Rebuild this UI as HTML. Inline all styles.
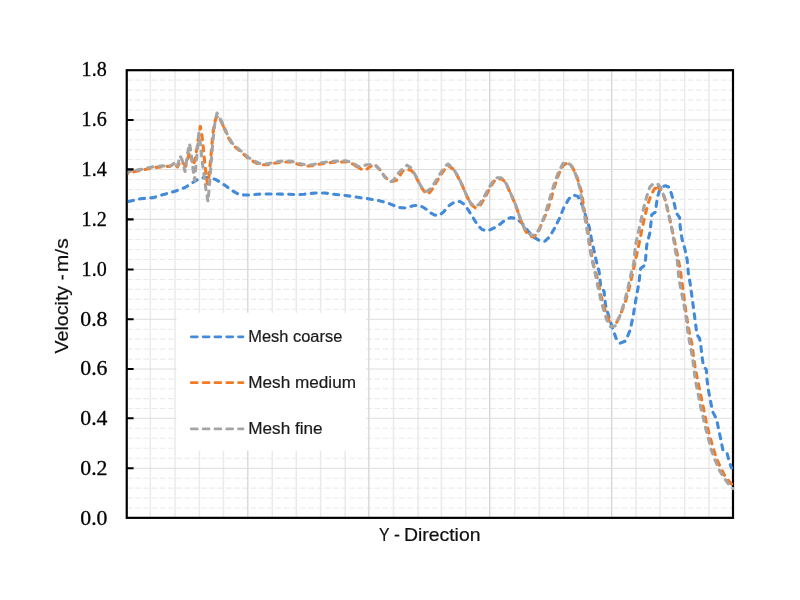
<!DOCTYPE html>
<html lang="en"><head><meta charset="utf-8"><title>Velocity vs Y - Direction</title>
<style>
html,body{margin:0;padding:0;background:#fff;}
body{width:800px;height:600px;overflow:hidden;}
svg{display:block;}
.tk text{font-family:"Liberation Serif",serif;font-size:21.4px;text-anchor:end;fill:#000;stroke:#000;stroke-width:0.3px;}
.lg{font-family:"Liberation Sans",sans-serif;font-size:15.8px;fill:#1a1a1a;stroke:#1a1a1a;stroke-width:0.2px;}
.ti{font-family:"Liberation Sans",sans-serif;fill:#111;stroke:#111;stroke-width:0.2px;}
</style></head><body>
<svg width="800" height="600" viewBox="0 0 800 600">
<rect width="800" height="600" fill="#fff"/>
<path d="M126.8,80.16H733.0M126.8,90.12H733.0M126.8,100.08H733.0M126.8,110.04H733.0M126.8,129.89H733.0M126.8,139.78H733.0M126.8,149.67H733.0M126.8,159.56H733.0M126.8,179.44H733.0M126.8,189.43H733.0M126.8,199.42H733.0M126.8,209.41H733.0M126.8,229.42H733.0M126.8,239.44H733.0M126.8,249.46H733.0M126.8,259.48H733.0M126.8,279.45H733.0M126.8,289.40H733.0M126.8,299.35H733.0M126.8,309.30H733.0M126.8,329.21H733.0M126.8,339.17H733.0M126.8,349.13H733.0M126.8,359.09H733.0M126.8,378.90H733.0M126.8,388.75H733.0M126.8,398.60H733.0M126.8,408.45H733.0M126.8,428.30H733.0M126.8,438.30H733.0M126.8,448.30H733.0M126.8,458.30H733.0M126.8,478.21H733.0M126.8,488.12H733.0M126.8,498.03H733.0M126.8,507.94H733.0" stroke="#ebebeb" stroke-width="1.1" stroke-dasharray="5.7 2.55" fill="none"/>
<path d="M150.30,70.2V517.85M175.00,70.2V517.85M199.40,70.2V517.85M223.50,70.2V517.85M272.25,70.2V517.85M296.30,70.2V517.85M320.60,70.2V517.85M345.20,70.2V517.85M393.50,70.2V517.85M418.20,70.2V517.85M441.40,70.2V517.85M465.70,70.2V517.85M514.70,70.2V517.85M539.20,70.2V517.85M563.70,70.2V517.85M588.20,70.2V517.85M636.10,70.2V517.85M660.10,70.2V517.85M684.70,70.2V517.85M709.00,70.2V517.85" stroke="#eaeaea" stroke-width="1.5" fill="none"/>
<path d="M247.80,70.2V517.85M368.80,70.2V517.85M489.70,70.2V517.85M611.70,70.2V517.85" stroke="#d5d5d5" stroke-width="1.3" fill="none"/>
<path d="M126.8,120.00H733.0M126.8,169.45H733.0M126.8,219.40H733.0M126.8,269.50H733.0M126.8,319.25H733.0M126.8,369.05H733.0M126.8,418.30H733.0M126.8,468.30H733.0" stroke="#dddddd" stroke-width="1.1" fill="none"/>
<rect x="176.5" y="312.8" width="189.7" height="137.9" fill="#fff"/>
<rect x="126.75" y="70.2" width="606.25" height="447.65000000000003" fill="none" stroke="#000" stroke-width="2.2"/>
<clipPath id="pc"><rect x="127.75" y="70.2" width="606.55" height="447.65000000000003"/></clipPath>
<g clip-path="url(#pc)" fill="none" stroke-linejoin="round" stroke-linecap="round">
<path d="M127.3,201.8 L133.0,200.5 L140.0,198.8 L146.0,198.2 L152.5,197.7 L158.0,196.3 L163.8,194.4 L170.0,192.8 L175.0,191.2 L180.0,189.5 L185.0,187.5 L190.0,184.5 L195.0,181.0 L200.0,178.3 L204.0,177.6 L208.0,177.6 L212.0,178.3 L216.0,179.6 L220.0,182.2 L226.0,186.0 L232.0,190.5 L238.0,194.0 L244.0,195.0 L250.0,195.0 L257.5,194.2 L265.0,194.0 L277.0,194.0 L287.5,194.2 L298.0,194.7 L304.0,194.2 L310.0,193.5 L317.5,192.9 L325.0,193.0 L333.5,194.3 L345.5,195.5 L356.0,197.0 L368.0,198.7 L378.5,200.5 L389.0,203.5 L395.0,206.0 L399.5,207.5 L405.5,208.0 L409.0,207.0 L413.0,205.8 L417.0,205.3 L420.5,205.8 L423.5,207.5 L426.5,209.5 L430.0,212.5 L434.5,215.0 L439.0,215.5 L443.5,212.0 L449.5,205.2 L455.5,201.5 L460.0,201.5 L464.5,204.5 L469.0,211.2 L473.0,217.5 L477.5,225.0 L482.0,229.5 L487.2,231.0 L494.0,228.0 L500.0,224.2 L506.0,219.5 L510.5,217.6 L516.5,218.5 L522.5,223.8 L528.5,231.6 L534.5,237.6 L540.5,241.2 L545.0,241.2 L549.5,237.0 L554.5,228.3 L559.5,218.3 L564.0,207.2 L569.0,198.8 L573.5,195.0 L578.0,196.5 L582.5,205.5 L586.2,217.7 L589.2,227.0 L591.5,239.0 L593.8,249.5 L596.0,260.0 L599.2,272.0 L600.8,287.5 L604.0,291.0 L605.5,305.0 L609.0,317.0 L612.8,329.0 L616.5,339.5 L620.2,343.2 L625.5,341.0 L630.0,330.5 L633.0,317.0 L636.0,299.0 L639.0,282.5 L640.6,268.5 L644.8,265.3 L645.6,258.5 L646.8,245.0 L649.8,233.0 L651.3,220.0 L651.7,214.8 L655.8,211.8 L656.3,205.0 L657.5,197.0 L659.5,190.5 L662.5,186.5 L665.5,185.8 L669.2,187.2 L671.5,194.0 L674.5,204.5 L676.2,213.0 L679.6,217.5 L680.2,227.0 L682.0,239.0 L685.0,249.5 L687.2,260.0 L688.5,275.0 L690.0,282.5 L692.0,297.0 L694.0,312.0 L695.5,323.0 L696.8,334.5 L699.6,338.5 L700.8,345.5 L702.2,357.5 L703.5,366.5 L706.3,369.5 L706.9,378.5 L708.2,389.0 L710.5,401.0 L712.5,411.5 L716.5,419.0 L718.8,430.0 L721.0,440.5 L723.0,450.5 L727.0,453.0 L729.2,461.5 L730.8,466.0 L731.5,468.0" stroke="#438bd9" stroke-width="3.1" stroke-dasharray="5.0 6.3" stroke-dashoffset="10.02"/>
<path d="M127.3,173.5 L133.0,172.0 L140.0,170.6 L146.0,169.2 L151.2,168.1 L156.0,167.4 L161.2,166.9 L166.0,166.5 L170.0,166.2 L172.0,165.0 L173.8,163.3 L175.5,164.8 L177.5,166.9 L179.0,163.8 L181.0,161.0 L183.0,163.0 L185.8,166.0 L187.5,160.0 L189.5,152.5 L191.5,158.0 L193.2,165.2 L195.0,160.0 L197.0,148.0 L198.8,135.0 L200.4,126.4 L202.0,136.0 L203.5,150.0 L205.0,165.0 L206.3,176.0 L207.5,184.0 L208.7,178.0 L210.0,166.0 L211.3,152.0 L212.5,138.0 L214.0,125.0 L216.0,118.0 L217.5,116.5 L219.5,118.5 L221.5,122.0 L224.2,128.0" stroke="#f37a22" stroke-width="3.1" stroke-dasharray="5.0 6.3" stroke-dashoffset="4.53"/>
<path d="M224.2,128.0 L228.0,137.0 L232.5,144.5 L238.5,149.8 L244.5,155.0 L248.5,158.5 L254.5,162.2 L260.5,164.8 L268.0,164.8 L275.5,163.0 L283.0,162.0 L290.5,162.0 L298.0,164.2 L307.0,166.0 L313.0,165.7 L319.0,164.2 L327.5,162.8 L335.0,162.2 L345.5,161.8 L351.5,163.2 L357.5,167.0" stroke="#f37a22" stroke-width="3.1" stroke-dasharray="5.0 6.3" stroke-dashoffset="0.20"/>
<path d="M357.5,167.0 L360.5,168.7 L363.5,170.2 L367.0,169.0 L371.0,166.0 L374.8,164.5 L380.0,169.8 L384.5,176.5 L390.5,181.8 L396.5,180.2 L399.5,176.5 L402.5,171.2 L407.0,169.0 L411.9,170.9 L416.4,177.7 L420.9,186.7 L425.4,193.0 L427.6,194.2 L430.4,191.7 L432.9,188.2 L436.4,182.2 L440.9,174.7 L445.4,168.2 L448.4,165.7 L452.9,168.9 L457.4,175.7 L461.9,184.7 L466.4,195.2 L470.9,204.2 L475.4,207.9 L479.9,205.7 L484.4,198.7 L488.9,189.7 L491.9,184.7 L494.9,180.2 L496.4,179.0 L501.4,179.0 L503.4,180.2 L506.9,185.4 L511.4,195.2 L515.9,205.7 L518.9,214.7 L522.9,226.2 L527.9,234.7 L533.4,237.2 L537.9,232.7 L542.4,222.2 L546.9,211.7 L550.6,201.2 L554.4,186.7 L558.9,173.7 L563.4,165.2 L567.1,163.2 L572.4,166.9 L576.9,176.7 L581.4,191.7 L584.3,210.5" stroke="#f37a22" stroke-width="3.1" stroke-dasharray="5.0 6.3" stroke-dashoffset="0.68"/>
<path d="M584.3,210.5 L586.5,222.5 L588.8,236.0 L590.3,246.5 L592.5,260.0 L594.3,268.0 L597.3,278.0 L600.3,293.0 L604.8,309.5 L609.3,321.5" stroke="#f37a22" stroke-width="3.1" stroke-dasharray="5.0 6.3" stroke-dashoffset="4.36"/>
<path d="M613.0,325.2 L616.8,322.2 L621.3,312.5 L625.8,300.5 L629.5,287.0 L633.3,270.5 L635.8,258.5 L638.8,245.0 L641.8,230.0 L644.8,216.5 L647.8,204.5 L650.8,195.5 L654.5,188.8 L658.3,187.2" stroke="#f37a22" stroke-width="3.1" stroke-dasharray="5.0 6.3" stroke-dashoffset="6.52"/>
<path d="M658.3,187.2 L662.0,191.0 L665.8,201.5 L668.8,215.0 L671.8,228.5 L674.8,242.0 L677.8,257.0 L680.3,270.0 L682.0,282.5 L685.0,305.0 L687.5,322.0 L689.8,335.0 L692.0,344.0 L693.5,356.0 L695.0,366.5 L697.3,378.5 L699.5,389.0 L701.8,400.0 L704.0,410.5 L706.3,422.5 L709.3,434.5 L712.3,445.0 L716.0,457.0 L719.8,466.0 L724.3,475.0 L728.8,481.0 L733.3,486.0" stroke="#f37a22" stroke-width="3.1" stroke-dasharray="5.0 6.3" stroke-dashoffset="1.51"/>
<path d="M127.3,172.0 L133.0,170.8 L141.2,169.4 L147.0,168.0 L152.5,166.9 L158.0,166.3 L162.5,165.9 L166.0,166.2 L170.0,166.6 L172.0,165.0 L173.8,163.5 L175.5,165.5 L176.9,167.5 L178.5,162.0 L180.0,156.0 L181.3,158.0 L182.5,161.0 L184.0,167.0 L185.0,171.5 L186.0,165.0 L187.5,154.0 L189.5,143.5 L191.0,152.0 L192.5,165.0 L194.5,180.5 L196.0,165.0 L197.5,148.0 L199.0,133.0 L200.5,145.0 L202.0,160.0 L204.0,175.0 L206.0,190.0 L208.0,201.5 L209.5,185.0 L211.0,165.0 L213.0,140.0 L215.0,122.0 L217.0,113.0 L219.0,116.0 L220.5,119.5 L224.2,127.0 L228.0,136.0 L232.5,143.5 L238.5,148.8 L244.5,154.0 L248.5,157.5 L254.5,161.2 L260.5,163.8 L268.0,163.8 L275.5,162.0 L283.0,161.0 L290.5,161.0 L298.0,163.2 L307.0,165.0 L313.0,164.7 L319.0,163.2 L327.5,161.8 L335.0,161.2 L345.5,160.8 L351.5,162.2 L357.5,166.0 L360.5,166.8 L366.5,164.8 L374.8,164.5 L380.0,169.8 L384.5,176.5 L390.5,181.8 L393.5,180.2 L398.0,173.5 L402.5,169.0 L407.0,165.2 L411.5,168.2 L416.0,176.5 L420.5,185.5 L425.0,191.5 L427.5,191.0 L430.0,189.0 L432.5,186.0 L436.0,180.5 L440.5,173.0 L445.0,166.2 L448.0,164.0 L452.5,167.8 L457.0,174.5 L461.5,183.5 L466.0,194.0 L470.5,203.0 L475.0,206.5 L479.5,204.0 L484.0,197.0 L488.5,188.5 L491.5,183.5 L494.5,179.0 L496.0,177.8 L501.0,177.8 L503.0,179.0 L506.5,184.2 L511.0,194.0 L515.5,204.5 L518.5,213.5 L522.5,224.5 L527.0,232.0 L531.5,235.5 L536.0,234.5 L540.5,226.5 L545.0,214.5 L549.5,199.5 L554.0,184.5 L558.5,171.8 L563.0,163.5 L566.0,162.0 L571.0,165.0 L575.5,174.0 L580.0,188.5 L583.0,208.0 L585.5,221.0 L587.8,235.0 L589.5,246.5 L591.5,258.0 L593.2,265.0 L595.5,275.0 L598.5,290.0 L602.2,305.0 L606.8,320.0 L610.5,326.8 L615.0,326.0 L619.5,317.0 L624.0,303.5 L627.8,288.5 L630.8,275.0 L633.8,263.0 L635.5,245.0 L638.5,231.5 L641.5,218.0 L643.8,207.5 L646.8,196.2 L649.8,187.2 L652.8,184.2 L657.2,183.5 L661.0,188.0 L664.8,198.5 L668.5,213.5 L671.5,227.0 L673.8,240.5 L676.0,254.0 L677.2,260.0 L678.8,278.0 L681.0,290.0 L684.0,305.0 L686.5,320.0 L688.0,333.5 L690.2,345.5 L692.5,357.5 L694.0,369.5 L695.5,381.5 L697.8,392.0 L699.5,401.0 L700.8,407.5 L703.0,416.5 L705.2,427.0 L708.2,437.5 L711.2,449.5 L715.0,460.0 L719.5,470.5 L724.0,478.0 L728.5,484.0 L733.0,488.5" stroke="#a5a5a5" stroke-width="3.1" stroke-dasharray="5.0 6.3" stroke-dashoffset="1.54"/>
</g>
<path d="M126.8,119.95h6.8M126.8,169.40h6.8M126.8,219.35h6.8M126.8,269.45h6.8M126.8,319.20h6.8M126.8,369.00h6.8M126.8,418.25h6.8M126.8,468.25h6.8" stroke="#000" stroke-width="2.1" fill="none"/>
<g class="tk">
<text x="106.7" y="76.2" textLength="25.1" lengthAdjust="spacingAndGlyphs">1.8</text>
<text x="106.7" y="126.1" textLength="25.1" lengthAdjust="spacingAndGlyphs">1.6</text>
<text x="106.7" y="175.9" textLength="25.1" lengthAdjust="spacingAndGlyphs">1.4</text>
<text x="106.7" y="225.8" textLength="25.1" lengthAdjust="spacingAndGlyphs">1.2</text>
<text x="106.7" y="275.6" textLength="25.1" lengthAdjust="spacingAndGlyphs">1.0</text>
<text x="107.5" y="325.5" textLength="27.25" lengthAdjust="spacingAndGlyphs">0.8</text>
<text x="107.5" y="375.3" textLength="27.25" lengthAdjust="spacingAndGlyphs">0.6</text>
<text x="107.5" y="425.1" textLength="27.25" lengthAdjust="spacingAndGlyphs">0.4</text>
<text x="107.5" y="475.0" textLength="27.25" lengthAdjust="spacingAndGlyphs">0.2</text>
<text x="107.5" y="524.8" textLength="27.25" lengthAdjust="spacingAndGlyphs">0.0</text>
</g>
<path d="M191.3,336.8H243" stroke="#438bd9" stroke-width="2.7" stroke-dasharray="6 5.8" stroke-linecap="round" fill="none"/>
<text class="lg" x="248.3" y="341.7" textLength="94.0" lengthAdjust="spacingAndGlyphs">Mesh coarse</text>
<path d="M191.3,382.7H243" stroke="#f37a22" stroke-width="2.7" stroke-dasharray="6 5.8" stroke-linecap="round" fill="none"/>
<text class="lg" x="248.3" y="387.6" textLength="107.7" lengthAdjust="spacingAndGlyphs">Mesh medium</text>
<path d="M191.3,428.90000000000003H243" stroke="#a5a5a5" stroke-width="2.7" stroke-dasharray="6 5.8" stroke-linecap="round" fill="none"/>
<text class="lg" x="248.3" y="433.8" textLength="74.3" lengthAdjust="spacingAndGlyphs">Mesh fine</text>
<text class="ti" y="540.6" font-size="17.8"><tspan x="379.0" textLength="10.2" lengthAdjust="spacingAndGlyphs">Y</tspan> <tspan x="394.0">-</tspan> <tspan x="403.9" textLength="76.6" lengthAdjust="spacingAndGlyphs">Direction</tspan></text>
<text class="ti" transform="translate(67.9,353.6) rotate(-90)" font-size="17.8"><tspan x="0" textLength="67.8" lengthAdjust="spacingAndGlyphs">Velocity</tspan> <tspan x="73.4">-</tspan> <tspan x="81.3" textLength="34" lengthAdjust="spacingAndGlyphs">m/s</tspan></text>
</svg>
</body></html>
